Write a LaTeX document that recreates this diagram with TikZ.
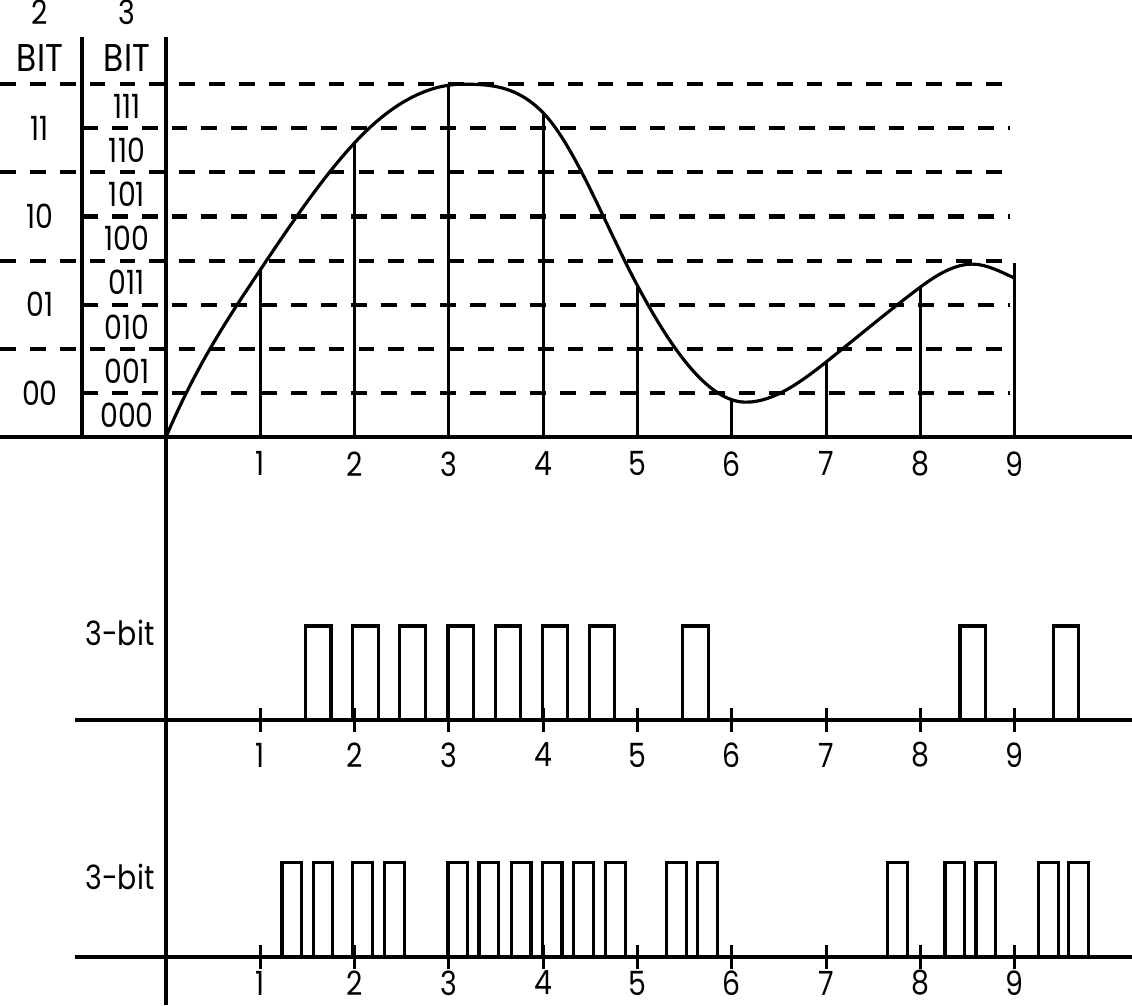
\documentclass[tikz,border=0pt]{standalone}
\usepackage{fontspec}
\setmainfont{Poppins}[FakeStretch=0.85]

\begin{document}
\begin{tikzpicture}[
        x=0.943cm, y=0.441cm,
        every node/.style={font=\fontsize{9.5}{11}\selectfont, inner sep=0pt},
        head/.style={font=\fontsize{11}{13}\selectfont},
        axis/.style={line width=0.9pt},
        level/.style={line width=1.15pt, dash pattern=on 4.5pt off 4pt},
        sample/.style={line width=0.9pt},
        pulse/.style={line width=0.9pt}
    ]
    \useasboundingbox (-1.760,-12.880) rectangle (10.244,9.909);

    % Quantisierungsstufen
    \foreach \l in {2,4,6,8}
        \draw[level] (-1.760,\l) -- (8.95,\l);
    \foreach \l in {1,3,5,7}
        \draw[level] (-0.891,\l) -- (8.95,\l);

    % Achsen
    \draw[axis] (0,9.07) -- (0,-12.88);
    \draw[axis] (-0.891,9.07) -- (-0.891,0);
    \draw[axis] (-1.760,0) -- (10.244,0);
    \draw[axis] (-0.965,-6.417) -- (10.244,-6.417);
    \draw[axis] (-0.965,-11.79) -- (10.244,-11.79);

    % Kopf
    \node (twoNum) at (-1.336,9.64) {2};
    \node (threeNum) at (-0.414,9.64) {3};
    \node[head] (twoBit) at (-1.336,8.59) {BIT};
    \node[head] (threeBit) at (-0.414,8.59) {BIT};

    % Codes
    \node (c11) at (-1.336,7) {11};
    \node (c10) at (-1.336,5) {10};
    \node (c01) at (-1.336,3) {01};
    \node (c00) at (-1.336,1) {00};
    \node (c111) at (-0.414,7.5) {111};
    \node (c110) at (-0.414,6.5) {110};
    \node (c101) at (-0.414,5.5) {101};
    \node (c100) at (-0.414,4.5) {100};
    \node (c011) at (-0.414,3.5) {011};
    \node (c010) at (-0.414,2.5) {010};
    \node (c001) at (-0.414,1.5) {001};
    \node (c000) at (-0.414,0.5) {000};

    % Signal und Abtastwerte
    \draw[sample] (0,0)
        .. controls (0.333,1.667) and (0.667,2.723) .. (1,3.79)
        .. controls (1.333,4.857) and (1.667,5.903) .. (2,6.67)
        .. controls (2.383,7.552) and (2.767,8.0) .. (3.15,8.0)
        .. controls (3.433,8.0) and (3.717,7.973) .. (4,7.35)
        .. controls (4.333,6.617) and (4.667,4.763) .. (5,3.43)
        .. controls (5.383,1.897) and (5.767,0.79) .. (6.15,0.79)
        .. controls (6.433,0.79) and (6.717,1.218) .. (7,1.7)
        .. controls (7.333,2.267) and (7.667,2.867) .. (8,3.4)
        .. controls (8.183,3.693) and (8.367,3.92) .. (8.55,3.92)
        .. controls (8.7,3.92) and (8.85,3.75) .. (9,3.6);
    \foreach \i/\h in {1/3.79, 2/6.67, 3/8.0, 4/7.35, 5/3.43, 6/0.84, 7/1.7, 8/3.4, 9/3.95}
        \draw[sample] (\i,0) -- (\i,\h);

    % Zeitachsen
    \foreach \i in {1,...,9} {
        \node (ta\i) at (\i,-0.61) {\i};
        \draw[axis] (\i,-6.687) -- (\i,-6.147);
        \node (tb\i) at (\i,-7.21) {\i};
        \draw[axis] (\i,-12.06) -- (\i,-11.52);
        \node (tc\i) at (\i,-12.38) {\i};
    }

    % Pulse
    \node (bitsB) at (-0.488,-4.44) {3-bit};
    \foreach \p in {1.48,1.98,2.48,2.99,3.49,3.99,4.49,5.48,8.42,9.41}
        \draw[pulse] (\p,-6.417) rectangle ++(0.27,2.13);
    \node (bitsC) at (-0.488,-9.98) {3-bit};
    \foreach \p in {1.23,1.56,1.98,2.32,2.99,3.32,3.66,3.99,4.32,4.66,5.31,5.64,7.65,8.26,8.59,9.25,9.57}
        \draw[pulse] (\p,-11.79) rectangle ++(0.21,2.15);
\end{tikzpicture}
\end{document}
